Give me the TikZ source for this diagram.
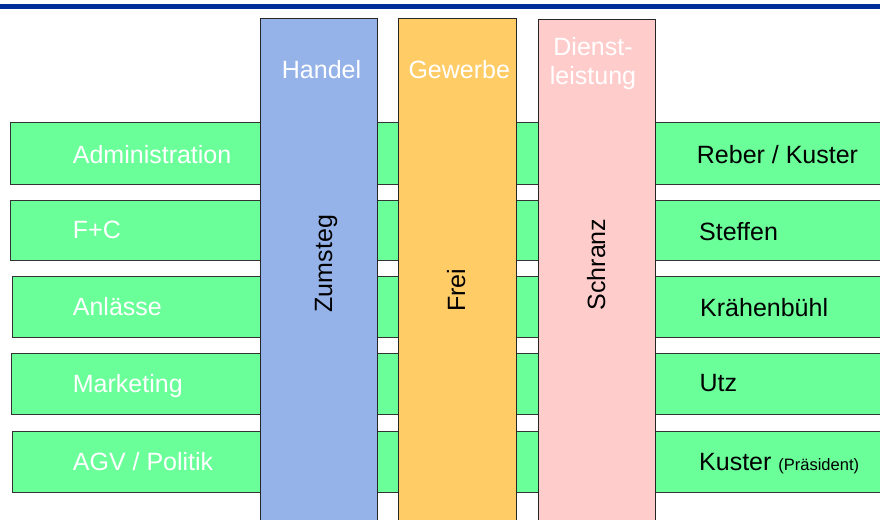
\documentclass[tikz,border=0pt]{standalone}
\usepackage{fontspec}
\setmainfont{Liberation Sans}
\definecolor{rowgreen}{RGB}{106,255,153}
\definecolor{colblue}{RGB}{149,179,232}
\definecolor{colorange}{RGB}{255,204,102}
\definecolor{colpink}{RGB}{255,204,204}
\definecolor{barblue}{RGB}{0,45,153}
\begin{document}
\begin{tikzpicture}[x=1pt,y=-1pt,
  rowbox/.style={fill=rowgreen,draw=black!80,line width=0.9pt},
  colbox/.style={draw=black!85,line width=0.9pt},
  lbl/.style={font=\fontsize{25}{29}\selectfont,inner sep=0pt,anchor=base west},
  wlbl/.style={lbl,text=white},
  blbl/.style={lbl,text=black},
  vlbl/.style={blbl,rotate=90}]
\useasboundingbox (0,0) rectangle (880,519);
\clip (0,0) rectangle (880,519);
% top bar
\fill[barblue] (0,4) rectangle (880,9.3);
% rows
\draw[rowbox] (10,122.3) rectangle (886,184.3);
\draw[rowbox] (10,200) rectangle (886,260.7);
\draw[rowbox] (12,276.7) rectangle (886,337.3);
\draw[rowbox] (11.5,353.3) rectangle (886,414);
\draw[rowbox] (12,431) rectangle (886,492.3);
% columns
\draw[colbox,fill=colblue] (260.3,18) rectangle (377.7,530);
\draw[colbox,fill=colorange] (398.7,18.7) rectangle (516,530);
\draw[colbox,fill=colpink] (538.3,19.3) rectangle (655.3,530);
% headers
\node[wlbl] (handel) at (281.7,78.3) {Handel};
\node[wlbl] (gewerbe) at (408.3,78.3) {Gewerbe};
\node[text=white,font=\fontsize{25}{29}\selectfont,inner sep=0pt,align=center] (dienst) at (593,64) {Dienst-\\leistung};
% left labels
\node[wlbl] (admin) at (72.7,163.7) {Administration};
\node[wlbl] (fc) at (72.7,238.4) {F+C};
\node[wlbl] (anl) at (72.7,315.5) {Anlässe};
\node[wlbl] (mark) at (72.7,392.5) {Marketing};
\node[wlbl] (agv) at (72.7,470) {AGV / Politik};
% right labels
\node[blbl] (reber) at (696.7,163.3) {Reber / Kuster};
\node[blbl] (steffen) at (699,240) {Steffen};
\node[blbl] (kraeh) at (700,316) {Krähenbühl};
\node[blbl] (utz) at (699.3,391.7) {Utz};
\node[blbl] (kuster) at (699,470.7) {Kuster {\fontsize{16.5}{18}\selectfont (Präsident)}};
% vertical labels
\node[vlbl] (zumsteg) at (332,312.5) {Zumsteg};
\node[vlbl] (frei) at (465,312) {Frei};
\node[vlbl] (schranz) at (605,310.5) {Schranz};
\end{tikzpicture}
\end{document}
